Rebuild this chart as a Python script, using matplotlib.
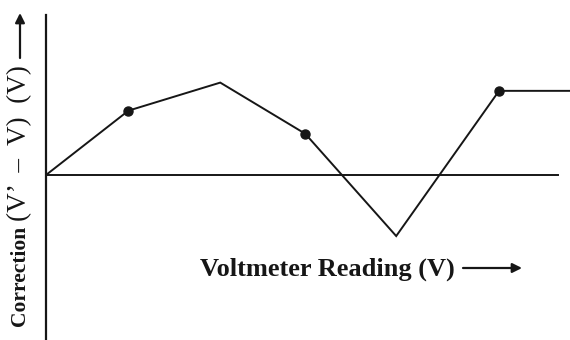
import matplotlib.pyplot as plt

# readings (arbitrary units)
reading = [0, 0.97, 2.05, 3.05, 4.12, 5.33, 6.2]
correction = [0, 1.95, 2.8, 1.25, -1.85, 2.55, 2.55]
dot_idx = [1, 3, 5]

W, H = 570, 340
fig = plt.figure(figsize=(W / 100, H / 100), dpi=100)
ax = fig.add_axes([46 / W, 0, (W - 46) / W, 1])
ax.set_xlim(0, 524 / 85)
ax.set_ylim(-165 / 33, 175 / 33)
ax.axis('off')

ink = '#161616'
ax.plot(reading, correction, color=ink, lw=1.4, solid_joinstyle='miter')
ax.plot([reading[i] for i in dot_idx], [correction[i] for i in dot_idx],
        'o', color=ink, ms=6.5)

# axes drawn as plain lines
ax.axhline(0, xmin=0, xmax=(558 - 46) / 524, color=ink, lw=1.4)
ax.axvline(0, ymin=0, ymax=(H - 15) / H, color=ink, lw=1.6, clip_on=False)

serif = ['Liberation Serif', 'DejaVu Serif']

def fx(px):
    return px / W

def fy(py):
    return 1 - py / H

fig.text(fx(200), fy(276), 'Voltmeter Reading (V)', family=serif,
         weight='bold', fontsize=19, ha='left', va='baseline', color=ink)
ax.annotate('', xy=(fx(522), fy(268)), xytext=(fx(463), fy(268)),
            xycoords='figure fraction', textcoords='figure fraction',
            arrowprops=dict(arrowstyle='-|>', color=ink, lw=1.6,
                            mutation_scale=14, shrinkA=0, shrinkB=0))

fig.text(fx(20), fy(326), 'Correction', family=serif, weight='bold',
         fontsize=15.5, rotation=90, ha='center', va='bottom', color=ink)
fig.text(fx(20), fy(221), "(V\u2019  \u2013  V)  (V)", family=serif,
         fontsize=19.5, rotation=90, ha='center', va='bottom', color=ink)
ax.annotate('', xy=(fx(20), fy(13)), xytext=(fx(20), fy(58)),
            xycoords='figure fraction', textcoords='figure fraction',
            arrowprops=dict(arrowstyle='-|>', color=ink, lw=1.6,
                            mutation_scale=14, shrinkA=0, shrinkB=0))

fig.savefig('out.png', dpi=100, facecolor='white')
